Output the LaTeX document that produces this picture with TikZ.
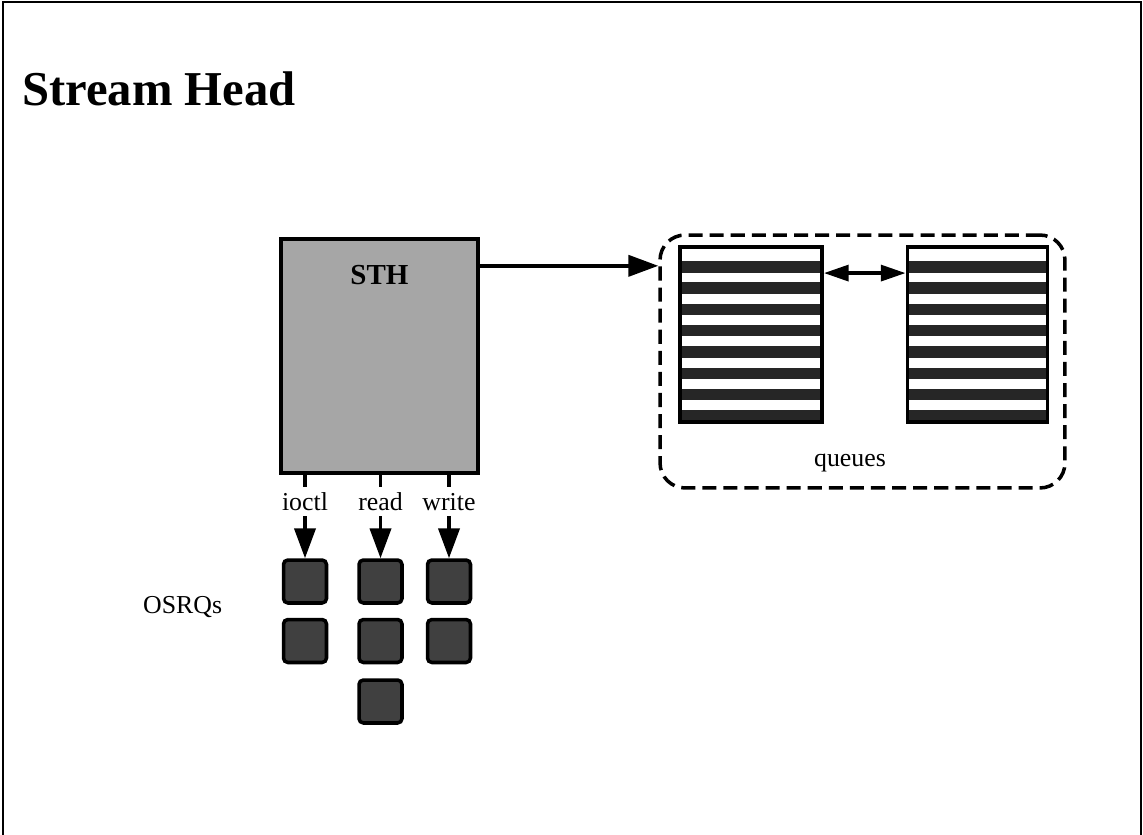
\documentclass[tikz,border=0pt]{standalone}
\usepackage{fontspec}
\setmainfont{Liberation Serif}
\usetikzlibrary{arrows.meta,positioning}

\begin{document}
\begin{tikzpicture}[x=0.02cm, y=-0.02cm,
        bigarrow/.style={-{Triangle[length=17pt,width=12pt]}, line width=2pt},
        sthbox/.style={draw, line width=2.5pt, fill=black!35, minimum width=3.94cm, minimum height=4.68cm},
        qbox/.style={draw, line width=2.2pt, minimum width=2.8cm, minimum height=3.5cm},
        osrq/.style={draw, line width=2pt, fill=black!75, rounded corners=2.5pt, minimum size=0.86cm},
        lbl/.style={font=\fontsize{14.7}{17}\selectfont}]
        \useasboundingbox (0,0) rectangle (1143,835);

        % Cornice
        \draw[line width=1pt] (3,835) -- (3,2) -- (1141,2) -- (1141,835);

        % Titolo
        \node[anchor=base west, inner sep=0pt, font=\fontsize{27.7}{32}\selectfont\bfseries] (title) at (22,105) {Stream Head};

        % Stream head
        \node[sthbox] (sth) at (379.5,356) {};
        \node[below=0.45cm of sth.north, font=\fontsize{16.5}{19}\selectfont\bfseries] (sthlbl) {STH};

        % Chiamate
        \node[lbl, anchor=base] (lioctl) at (305,510) {ioctl};
        \node[lbl, anchor=base] (lread) at (380.5,510) {read};
        \node[lbl, anchor=base] (lwrite) at (449,510) {write};
        \foreach \c in {lioctl, lread, lwrite}
            \draw[line width=2pt] (sth.south -| \c) -- ++(0,12);

        % OSRQ
        \node[osrq] (oi1) at (305,581.5) {};
        \node[osrq] (oi2) at (305,641) {};
        \node[osrq] (or1) at (380.5,581.5) {};
        \node[osrq] (or2) at (380.5,641) {};
        \node[osrq] (or3) at (380.5,701.5) {};
        \node[osrq] (ow1) at (449,581.5) {};
        \node[osrq] (ow2) at (449,641) {};
        \node[lbl, anchor=base west] (osrqlbl) at (137,613) {OSRQs};

        \draw[bigarrow] (lioctl.south) -- (oi1.north);
        \draw[bigarrow] (lread.south) -- (or1.north);
        \draw[bigarrow] (lwrite.south) -- (ow1.north);

        % Code
        \node[draw, dashed, dash pattern=on 8pt off 4pt, line width=2pt, rounded corners=0.5cm,
              minimum width=8.1cm, minimum height=5.06cm] (grp) at (862.5,361.5) {};
        \foreach \xa/\xb in {680/822, 908/1047}
            \foreach \i in {0,...,7}
                \fill[black!85] (\xa,261+21.3*\i) rectangle (\xb,272.5+21.3*\i);
        \node[qbox, minimum width=2.84cm] (q1) at (751,334.5) {};
        \node[qbox] (q2) at (977.5,334.5) {};
        \node[lbl] (qlbl) at (850,463) {queues};

        % Frecce
        \coordinate (sthout) at ([yshift=-0.58cm]sth.north east);
        \draw[bigarrow] (sthout) -- (sthout -| grp.west);
        \coordinate (q1out) at ([yshift=-0.56cm]q1.north east);
        \draw[{Triangle[length=14pt,width=9pt]}-{Triangle[length=14pt,width=9pt]}, line width=2pt] (q1out) -- (q1out -| q2.west);

    \end{tikzpicture}
\end{document}
